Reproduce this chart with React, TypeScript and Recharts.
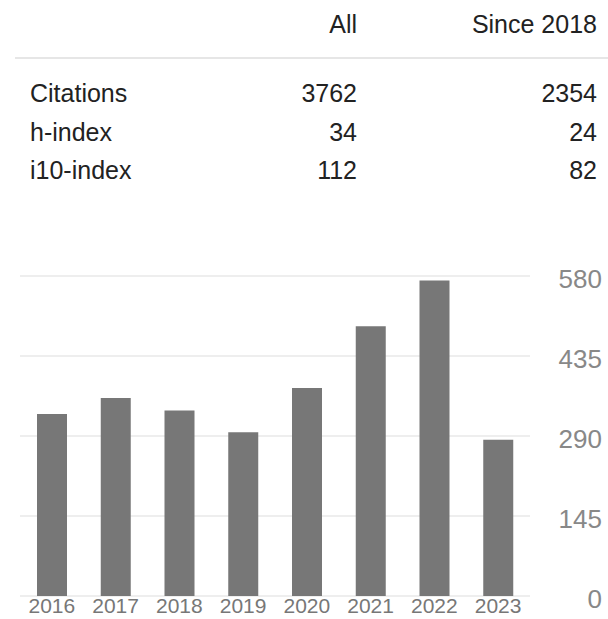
import React from "react";
import { BarChart, Bar, XAxis, YAxis, CartesianGrid } from "recharts";

const years = ["2016", "2017", "2018", "2019", "2020", "2021", "2022", "2023"];
const citations = [330, 359, 336, 297, 377, 489, 572, 283];
const yTicks = [0, 145, 290, 435, 580];

const statNames = ["Citations", "h-index", "i10-index"];
const statAll = ["3762", "34", "112"];
const statSince = ["2354", "24", "82"];
const headers = ["All", "Since 2018"];

const data = years.map((year, i) => ({ year, value: citations[i] }));

const font = "'Liberation Sans', Arial, sans-serif";
const rowTops = [81, 120, 158];

const textStyle: React.CSSProperties = {
  position: "absolute",
  fontFamily: font,
  fontSize: 25,
  lineHeight: "25px",
  color: "#222",
  whiteSpace: "nowrap",
};

// chart svg starts at page y=260, so tick positions are relative to that
const XTick = (props: any) => {
  const { x, payload } = props;
  return (
    <text
      x={x}
      y={353}
      textAnchor="middle"
      fontFamily={font}
      fontSize={21}
      fill="#777"
    >
      {payload.value}
    </text>
  );
};

const YTick = (props: any) => {
  const { y, payload } = props;
  return (
    <text
      x={602}
      y={y + 3}
      textAnchor="end"
      dominantBaseline="central"
      fontFamily={font}
      fontSize={26}
      fill="#888"
    >
      {payload.value}
    </text>
  );
};

export default function App() {
  return (
    <div
      style={{
        position: "absolute",
        left: 0,
        top: 0,
        width: 608,
        height: 619,
        background: "#fff",
        overflow: "hidden",
      }}
    >
      <div style={{ ...textStyle, top: 12, right: 608 - 357, textAlign: "right" }}>
        {headers[0]}
      </div>
      <div style={{ ...textStyle, top: 12, right: 608 - 597, textAlign: "right" }}>
        {headers[1]}
      </div>
      <div
        style={{
          position: "absolute",
          left: 15,
          top: 57,
          width: 593,
          height: 2,
          background: "#e6e6e6",
        }}
      />
      {statNames.map((name, i) => (
        <React.Fragment key={name}>
          <div style={{ ...textStyle, top: rowTops[i], left: 30 }}>{name}</div>
          <div style={{ ...textStyle, top: rowTops[i], right: 608 - 357 }}>
            {statAll[i]}
          </div>
          <div style={{ ...textStyle, top: rowTops[i], right: 608 - 597 }}>
            {statSince[i]}
          </div>
        </React.Fragment>
      ))}

      <div style={{ position: "absolute", left: 0, top: 260 }}>
        <BarChart
          width={608}
          height={359}
          data={data}
          margin={{ top: 16, right: 0, bottom: 0, left: 20 }}
        >
          <CartesianGrid vertical={false} stroke="#e8e8e8" strokeWidth={1.5} />
          <XAxis
            dataKey="year"
            height={23}
            axisLine={false}
            tickLine={false}
            tick={<XTick />}
            interval={0}
          />
          <YAxis
            orientation="right"
            width={78}
            domain={[0, 580]}
            ticks={yTicks}
            axisLine={false}
            tickLine={false}
            tick={<YTick />}
          />
          <Bar dataKey="value" fill="#777777" barSize={30} isAnimationActive={false} />
        </BarChart>
      </div>
    </div>
  );
}
